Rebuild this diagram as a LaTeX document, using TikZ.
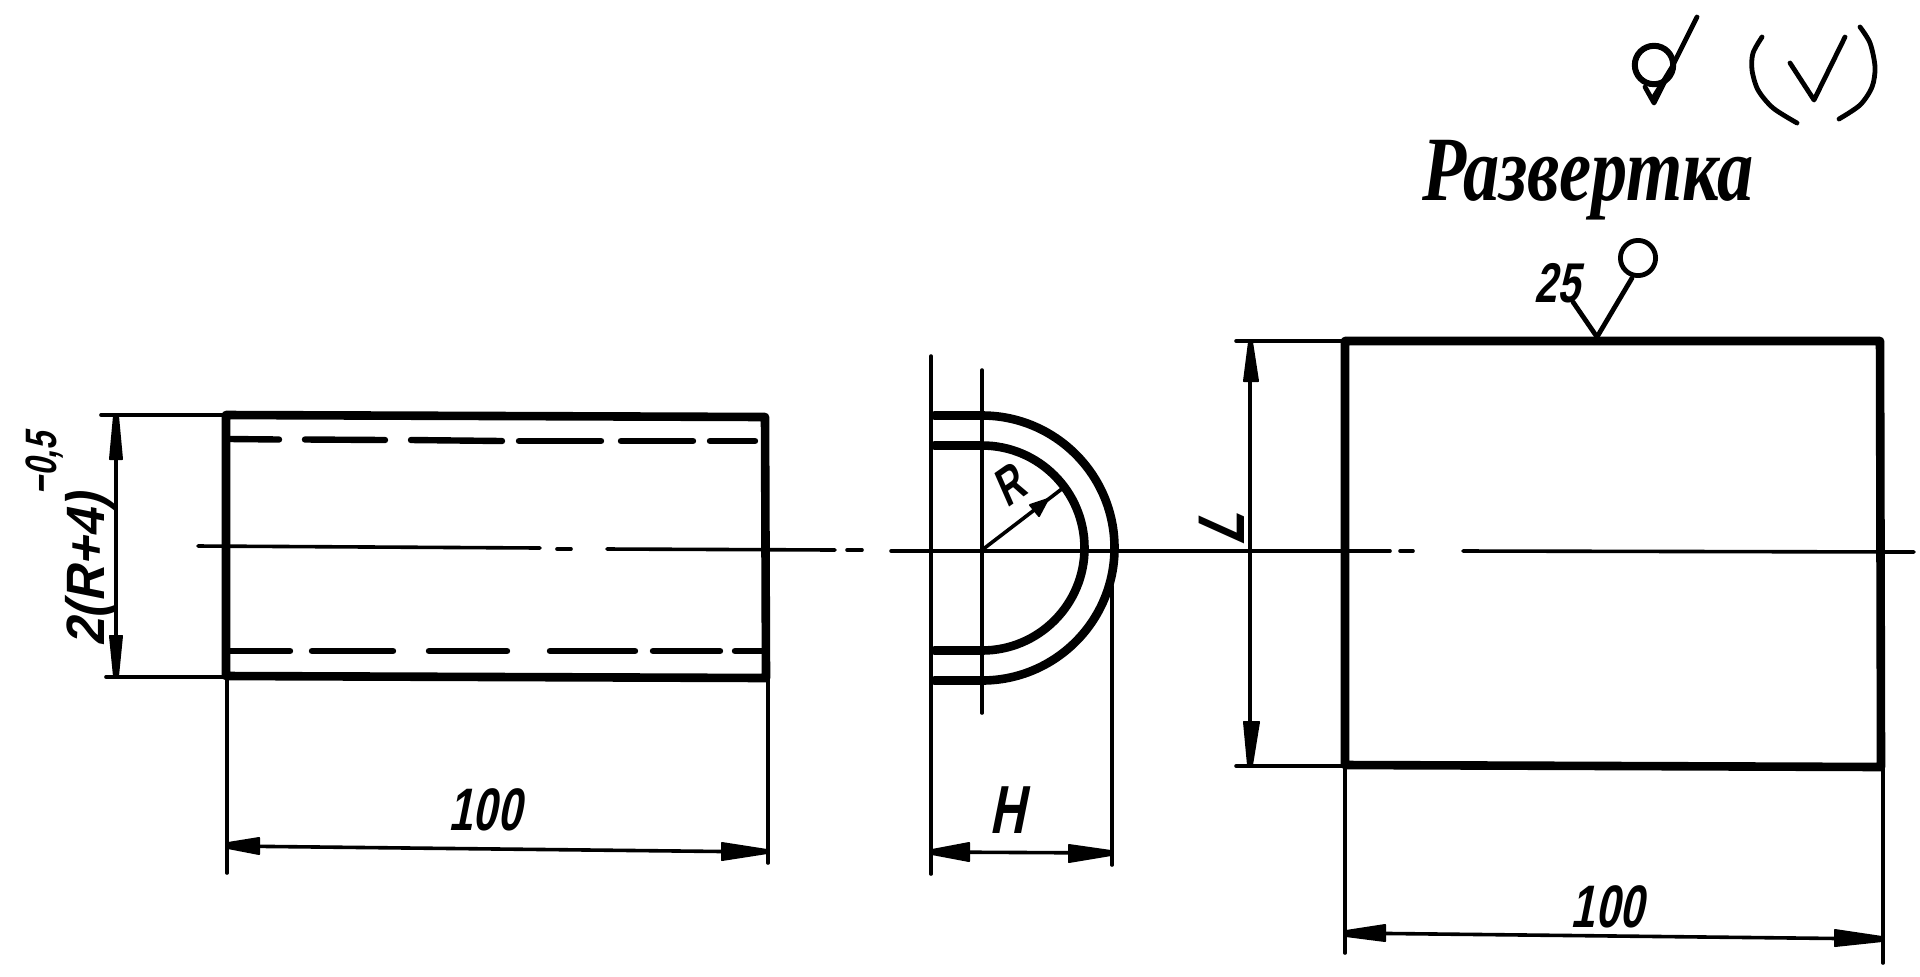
\documentclass[tikz,border=0pt]{standalone}
\usepackage{fontspec}
\newfontfamily\draftnum[FakeStretch=0.72,FakeSlant=0.2]{Liberation Sans}
\newfontfamily\draftwide[FakeStretch=0.92,FakeSlant=0.2]{Liberation Sans}
\newfontfamily\draftsteep[FakeStretch=0.8,FakeSlant=0.45]{Liberation Sans}
\newfontfamily\drafttitle[FakeStretch=0.786]{Liberation Serif}
\tikzset{
  outline/.style={line width=4.3pt,line cap=round,line join=round},
  hidden/.style={line width=3.2pt,line cap=round},
  thin line/.style={line width=1.8pt,line cap=round},
  mark line/.style={line width=2.4pt,line cap=round,line join=round},
  head/.style={fill=black,draw=black,line width=1pt,line join=round},
  num/.style={inner sep=0pt,font=\draftnum\bfseries\fontsize{30}{30}\selectfont},
}
\begin{document}
\begin{tikzpicture}[x=0.5pt,y=-0.5pt]
\useasboundingbox[fill=white] (0,0) rectangle (1920,976);
% left view
\draw[outline] (226,415) -- (765,417) -- (766,678) -- (226,676) -- cycle;
\foreach \a/\b/\c/\d in {230/439/279/439.5,305/439.5/385/440,411/440/502/441,519/441/601/441,621/441/693/441,710/441/755/441}
  \draw[hidden] (\a,\b) -- (\c,\d);
\foreach \a/\b in {230/290,312/393,429/507,550/635,653/720,735/763}
  \draw[hidden] (\a,651) -- (\b,651);
% centre line, left view
\draw[thin line] (198,546) -- (540,548);
\draw[thin line] (557,549) -- (571,549);
\draw[thin line] (607,549) -- (835,550);
\draw[thin line] (847,550) -- (862,550);
\draw[thin line] (891,551) -- (1390,551);
\draw[thin line] (1400,551) -- (1413,551);
\draw[thin line] (1463,551) -- (1914,552);
% left view dimensions
\draw[thin line] (101,415) -- (226,415);
\draw[thin line] (106,677) -- (226,677);
\draw[thin line] (116,415) -- (116,677);
\fill[head] (114,416) -- (118,416) -- (122,459) -- (110,459) -- cycle;
\fill[head] (114,676) -- (118,676) -- (122,636) -- (110,636) -- cycle;
\node[num,rotate=90,font=\draftwide\bfseries\fontsize{27}{27}\selectfont] (lblh) at (91,570) {2(R+4)};
\node[num,rotate=90,font=\draftnum\bfseries\fontsize{22}{22}\selectfont] (lbltol) at (45,464) {−0,5};
\draw[thin line] (227,676) -- (227,873);
\draw[thin line] (768,678) -- (768,863);
\draw[thin line] (227,846) -- (768,852);
\fill[head] (228,843) -- (228,848) -- (259,854) -- (259,838) -- cycle;
\fill[head] (767,850) -- (767,853) -- (722,860) -- (722,843) -- cycle;
\node[num] (lbla) at (485,810) {100};
% section view
\draw[thin line] (931,356) -- (931,874);
\draw[thin line] (982,370) -- (982,713);
\draw[outline] (934,415.5) -- (982,415.5) arc[start angle=90,end angle=-90,radius=66.25pt] -- (934,680.5);
\draw[outline] (934,445.5) -- (982,445.5) arc[start angle=90,end angle=-90,radius=51.25pt] -- (934,650.5);
\draw[thin line] (982,550) -- (1063,488);
\fill[head] (1048,499) -- (1030,505) -- (1039,516) -- cycle;
\node[num,rotate=35,font=\draftnum\bfseries\fontsize{26}{26}\selectfont] (lblr) at (1008,486) {R};
\draw[thin line] (1112,586) -- (1112,865);
\draw[thin line] (931,852) -- (1112,853);
\fill[head] (932,850) -- (932,854) -- (969,861) -- (969,843) -- cycle;
\fill[head] (1111,851) -- (1111,855) -- (1069,862) -- (1069,845) -- cycle;
\node[num,font=\draftnum\bfseries\fontsize{34}{34}\selectfont] (lblH) at (1007,810) {H};
% developed view
\draw[outline] (1345,341) -- (1880,341) -- (1881,767) -- (1345,765) -- cycle;
\draw[thin line] (1236,341) -- (1345,341);
\draw[thin line] (1236,766) -- (1345,766);
\draw[thin line] (1250,341) -- (1250,766);
\fill[head] (1249,342) -- (1252,342) -- (1258,381) -- (1244,381) -- cycle;
\fill[head] (1248,765) -- (1252,765) -- (1259,722) -- (1244,722) -- cycle;
\node[num,rotate=90,font=\draftsteep\bfseries\fontsize{33}{33}\selectfont] (lblL) at (1222,531) {L};
\draw[thin line] (1345,765) -- (1345,953);
\draw[thin line] (1883,767) -- (1883,963);
\draw[thin line] (1345,933) -- (1883,939);
\fill[head] (1346,931) -- (1346,936) -- (1385,941) -- (1385,925) -- cycle;
\fill[head] (1882,937) -- (1882,941) -- (1835,946) -- (1835,930) -- cycle;
\node[num] (lblb) at (1607,907) {100};
% surface finish on the developed view
\draw[mark line] (1573,302) -- (1597,337) -- (1632,278);
\draw[mark line] (1638,258) circle[radius=8.8pt];
\node[num,font=\draftnum\bfseries\fontsize{28}{28}\selectfont] (lblfin) at (1557,283) {25};
% general finish mark
\draw[mark line] (1645,87) -- (1654,103) -- (1697,17);
\draw[line width=3pt,fill=white] (1654,65) circle[radius=9.6pt];
\draw[mark line] (1652.5,99) -- (1672,67);
\draw[mark line] plot[smooth] coordinates {(1762,37) (1753,53) (1752,70) (1758,90) (1773,108) (1797,123)};
\draw[mark line] plot[smooth] coordinates {(1860,27) (1870,43) (1875,67) (1872,87) (1860,105) (1839,119)};
\draw[mark line] (1790,63) -- (1814,100) -- (1845,37);
\node[inner sep=0pt,anchor=base,font=\drafttitle\bfseries\itshape\fontsize{46}{46}\selectfont] (title) at (1588,200) {Развертка};
\end{tikzpicture}
\end{document}
